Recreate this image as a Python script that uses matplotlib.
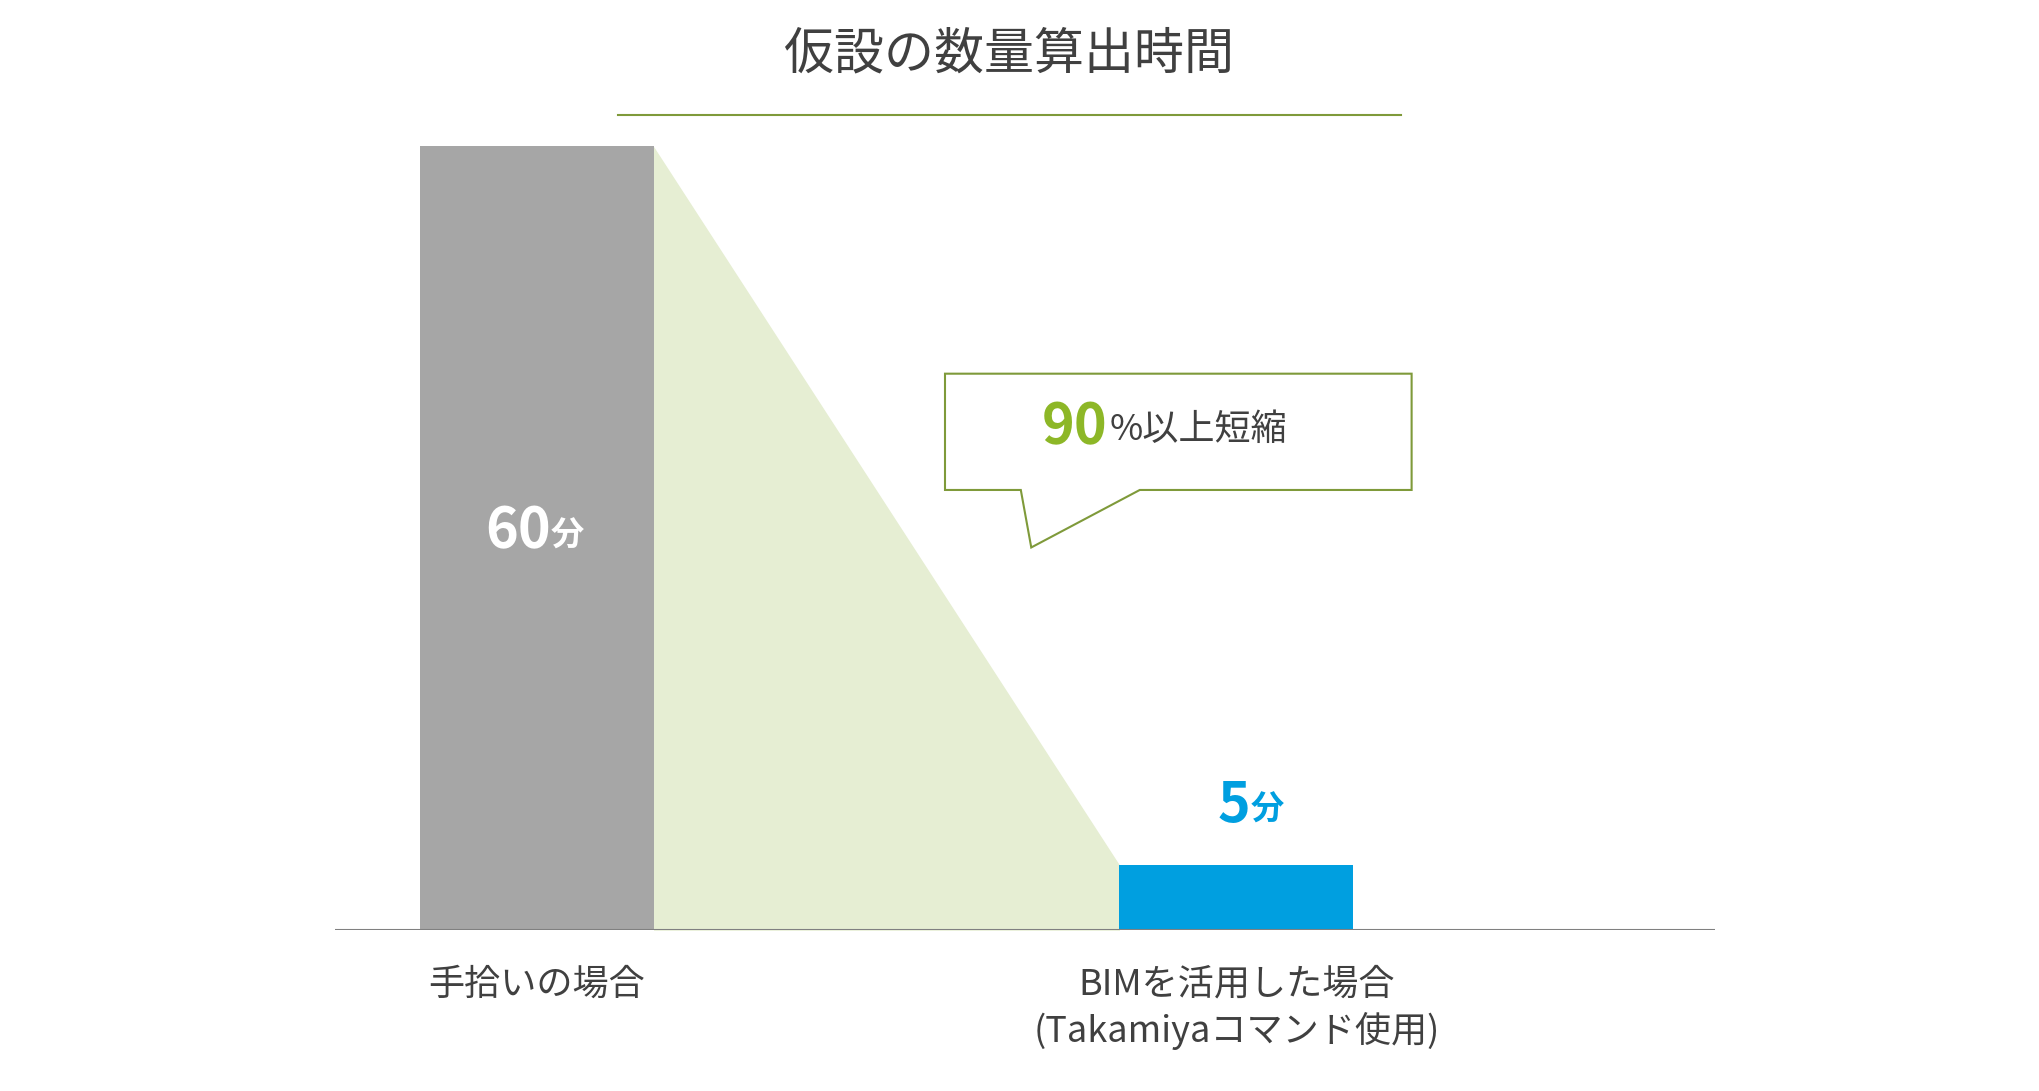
import matplotlib
matplotlib.use("Agg")
import matplotlib.pyplot as plt
from matplotlib.patches import Polygon

plt.rcParams["font.family"] = ["Noto Sans CJK JP", "DejaVu Sans"]

categories = ["手拾いの場合", "BIMを活用した場合\n(Takamiyaコマンド使用)"]
minutes = [60, 5]
colors = ["#a6a6a6", "#009fe0"]
title = "仮設の数量算出時間"

W, H = 1560, 835
fig = plt.figure(figsize=(20.39, 10.91), dpi=100)

# overlay axes in reference pixel coords
ov = fig.add_axes([0, 0, 1, 1])
ov.set_xlim(0, W); ov.set_ylim(H, 0); ov.axis("off")

# data axes: baseline at y=712, top (60) at y=112
x0, x1, yb, yt = 256, 1312, 712, 112
ax = fig.add_axes([x0 / W, 1 - yb / H, (x1 - x0) / W, (yb - yt) / H])
unit = 535.5
ax.set_xlim((x0 - 410.5) / unit, (x1 - 410.5) / unit)
ax.set_ylim(0, 60)
ax.axis("off")
bw = 179 / unit
xs = list(range(len(minutes)))
ax.fill_between([xs[0] + bw / 2, xs[1] - bw / 2], [minutes[0], minutes[1]], 0,
                color="#e6eed3", lw=0, zorder=1)
ax.bar(xs, minutes, width=bw, color=colors, zorder=2)
ax.axhline(0, color="#808080", lw=1.5, zorder=3)

ax.text(xs[0] + 0.02, minutes[0] / 2 + 0.5, f"{minutes[0]}", color="white", fontsize=40,
        fontweight="bold", ha="right", va="center")
ax.text(xs[0] + 0.02, minutes[0] / 2 + 0.2, "分", color="white", fontsize=24,
        fontweight="bold", ha="left", va="center")
ax.text(xs[1] + 0.02, minutes[1] + 4.5, f"{minutes[1]}", color="#009fe0", fontsize=40,
        fontweight="bold", ha="right", va="center")
ax.text(xs[1] + 0.02, minutes[1] + 4.2, "分", color="#009fe0", fontsize=24,
        fontweight="bold", ha="left", va="center")

for x, lab in zip(xs, categories):
    ax.text(x, -2.8, lab, ha="center", va="top", fontsize=26, color="#404040",
            linespacing=1.3)

# title
ov.text(772, 42, title, ha="center", va="center", fontsize=36, color="#404040")
ov.plot([473, 1072], [88, 88], color="#7f9a3a", lw=1.5)

# callout
pts = [(723, 286), (1080, 286), (1080, 375), (872, 375), (789, 419), (781, 375), (723, 375)]
ov.add_patch(Polygon(pts, closed=True, facecolor="white", edgecolor="#7f9a3a", lw=1.5))
ov.text(847, 327, "90", ha="right", va="center", fontsize=40, fontweight="bold", color="#8db727")
ov.text(849, 329, "%以上短縮", ha="left", va="center", fontsize=26, color="#404040")

fig.savefig("out.png", dpi=100, facecolor="white")
